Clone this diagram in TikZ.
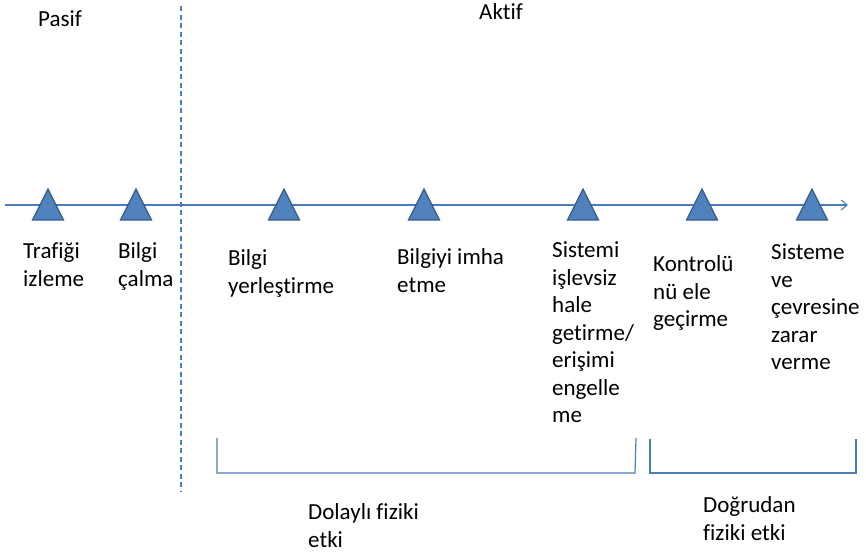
\documentclass[tikz,border=0pt]{standalone}
\usepackage{fontspec}
\setmainfont{Carlito}[Ligatures=NoCommon]
\usetikzlibrary{arrows.meta}
\definecolor{tri}{HTML}{4F81BD}
\definecolor{triedge}{HTML}{385D8A}
\definecolor{ln}{HTML}{4A7EBB}
\begin{document}
\begin{tikzpicture}[x=1pt,y=1pt,
  lbl/.style={anchor=north west,inner sep=0pt,align=left,font=\fontsize{23}{27.5}\selectfont,text=black,execute at begin node=\strut},
  marker/.style={fill=tri,draw=triedge,line width=1.2pt,line join=miter},
  axisline/.style={draw=ln,line width=1.1pt},
  brace/.style={draw=ln,line width=1.2pt},
  divider/.style={draw=ln,line width=1.1pt,dash pattern=on 5pt off 3.5pt}]
\useasboundingbox (0,0) rectangle (866,-554);
% axis
\coordinate (axA) at (5,-205);
\coordinate (axB) at (848,-205);
\draw[axisline,-{Straight Barb[length=6pt,width=10pt]}] (axA) -- (axB);
% divider
\coordinate (dvT) at (181,-6);
\coordinate (dvB) at (181,-492);
\draw[divider] (dvT) -- (dvB);
% markers
\foreach \n/\x in {m1/48,m2/136,m3/284,m4/424,m5/583,m6/702,m7/812}{
  \coordinate (\n) at (\x,-205);
  \filldraw[marker] (\x-15.5,-220) -- (\x,-189) -- (\x+15.5,-220) -- cycle;
}
% headings
\node[lbl] (pasif) at (38,-7.5) {Pasif};
\node[lbl] (aktif) at (479,-0.5) {Aktif};
% labels
\node[lbl] (t1) at (23,-242.5) {Trafiği\\izleme};
\node[lbl] (t2) at (118,-242.5) {Bilgi\\çalma};
\node[lbl] (t3) at (228,-249.5) {Bilgi\\yerleştirme};
\node[lbl] (t4) at (397,-248.5) {Bilgiyi imha\\etme};
\node[lbl] (t5) at (552,-241.5) {Sistemi\\işlevsiz\\hale\\getirme/\\erişimi\\engelle\\me};
\node[lbl] (t6) at (653,-255.5) {Kontrolü\\nü ele\\geçirme};
\node[lbl] (t7) at (771,-243.5) {Sisteme\\ve\\çevresine\\zarar\\verme};
% brackets
\coordinate (b1a) at (217,-438);
\coordinate (b1b) at (217,-473);
\coordinate (b1c) at (635,-473);
\coordinate (b1d) at (636,-438);
\draw[brace] (b1a) -- (b1b) -- (b1c) -- (b1d);
\coordinate (b2a) at (650,-439);
\coordinate (b2b) at (650,-473);
\coordinate (b2c) at (856,-473);
\coordinate (b2d) at (856,-439);
\draw[brace] (b2a) -- (b2b) -- (b2c) -- (b2d);
\node[lbl] (d1) at (308,-503.5) {Dolaylı fiziki\\etki};
\node[lbl] (d2) at (703,-496.5) {Doğrudan\\fiziki etki};
\end{tikzpicture}
\end{document}
